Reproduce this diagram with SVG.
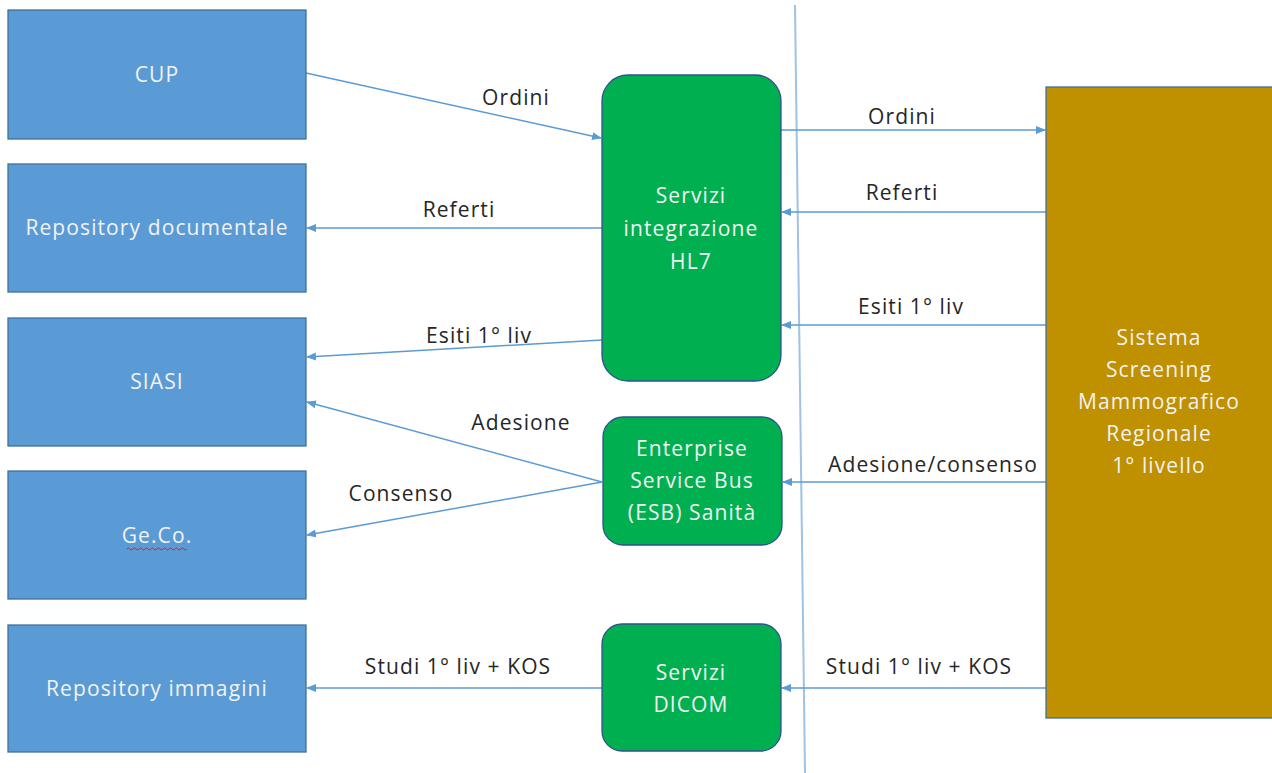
<svg xmlns="http://www.w3.org/2000/svg" width="1272" height="773" viewBox="0 0 1272 773">
<style>
.blue{fill:#5b9bd5;stroke:#41719c;stroke-width:1.3}
.green{fill:#00b050;stroke:#2f528f;stroke-width:1.3}
.brown{fill:#bf9000;stroke:#41719c;stroke-width:1.3}
.nt{font-family:"Open Sans","Liberation Sans",sans-serif;font-size:21px;letter-spacing:1.1px;fill:#f2f2f2;text-anchor:middle}
.lt{font-family:"Open Sans","Liberation Sans",sans-serif;font-size:21px;letter-spacing:1.1px;fill:#262626;text-anchor:middle}
.ln{stroke:#5b9bd5;stroke-width:1.5;fill:none;marker-end:url(#ah)}
</style>
<defs>
<marker id="ah" markerWidth="10" markerHeight="8" refX="9" refY="4" orient="auto" markerUnits="userSpaceOnUse">
<path d="M0,0 L10,4 L0,8 Z" fill="#5b9bd5"/>
</marker>
</defs>
<rect width="1272" height="773" fill="#ffffff"/>
<line x1="795" y1="5" x2="805" y2="773" stroke="#9dc3e6" stroke-width="2"/>
<g id="connectors">
<path class="ln" d="M306,73 L601,138"/>
<path class="ln" d="M602,228 L307,228"/>
<path class="ln" d="M602,340 L307,357"/>
<path class="ln" d="M602,482 L307,402"/>
<path class="ln" d="M602,482 L307,535"/>
<path class="ln" d="M602,688 L307,688"/>
<path class="ln" d="M781,130 L1045,130"/>
<path class="ln" d="M1046,212 L782,212"/>
<path class="ln" d="M1046,325 L782,325"/>
<path class="ln" d="M1046,482 L783,482"/>
<path class="ln" d="M1046,688 L782,688"/>
<text class="lt" x="516" y="105">Ordini</text>
<text class="lt" x="459" y="217">Referti</text>
<text class="lt" x="479" y="343">Esiti 1° liv</text>
<text class="lt" x="521" y="430">Adesione</text>
<text class="lt" x="401" y="501">Consenso</text>
<text class="lt" x="458" y="674">Studi 1° liv + KOS</text>
<text class="lt" x="902" y="124">Ordini</text>
<text class="lt" x="902" y="200">Referti</text>
<text class="lt" x="911" y="314">Esiti 1° liv</text>
<text class="lt" x="933" y="472">Adesione/consenso</text>
<text class="lt" x="919" y="674">Studi 1° liv + KOS</text>
</g>
<g id="cup"><rect class="blue" x="8" y="10" width="298" height="129"/><text class="nt" x="157" y="82">CUP</text></g>
<g id="repdoc"><rect class="blue" x="8" y="164" width="298" height="128"/><text class="nt" x="157" y="235">Repository documentale</text></g>
<g id="siasi"><rect class="blue" x="8" y="318" width="298" height="128"/><text class="nt" x="157" y="389">SIASI</text></g>
<g id="geco"><rect class="blue" x="8" y="471" width="298" height="128"/><text class="nt" x="157" y="543">Ge.Co.</text>
<path d="M127,549 q1.5,-2 3,0 t3,0 t3,0 t3,0 t3,0 t3,0 t3,0 t3,0 t3,0 t3,0 t3,0 t3,0 t3,0 t3,0 t3,0 t3,0 t3,0 t3,0 t3,0 t3,0" fill="none" stroke="#e02020" stroke-width="1"/></g>
<g id="repimg"><rect class="blue" x="8" y="625" width="298" height="127"/><text class="nt" x="157" y="696">Repository immagini</text></g>
<g id="hl7"><rect class="green" x="602" y="75" width="179" height="306" rx="26"/>
<text class="nt" x="691" y="203">Servizi</text><text class="nt" x="691" y="236">integrazione</text><text class="nt" x="691" y="269">HL7</text></g>
<g id="esb"><rect class="green" x="603" y="417" width="179" height="128" rx="20"/>
<text class="nt" x="692" y="456">Enterprise</text><text class="nt" x="692" y="488">Service Bus</text><text class="nt" x="692" y="520">(ESB) Sanità</text></g>
<g id="dicom"><rect class="green" x="602" y="624" width="179" height="127" rx="20"/>
<text class="nt" x="691" y="680">Servizi</text><text class="nt" x="691" y="712">DICOM</text></g>
<g id="sistema"><rect class="brown" x="1046" y="87" width="240" height="631"/>
<text class="nt" x="1159" y="345">Sistema</text><text class="nt" x="1159" y="377">Screening</text><text class="nt" x="1159" y="409">Mammografico</text><text class="nt" x="1159" y="441">Regionale</text><text class="nt" x="1159" y="473">1° livello</text></g>
</svg>
